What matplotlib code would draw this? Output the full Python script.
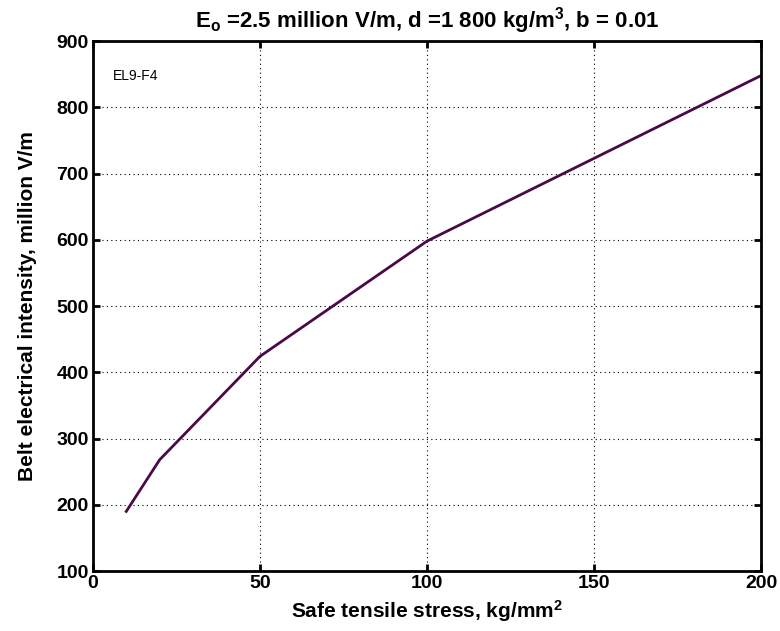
import matplotlib
matplotlib.use("Agg")
import matplotlib.pyplot as plt

stress = [10, 20, 50, 100, 200]
intensity = [190, 268, 424, 598, 848]
xticks = [0, 50, 100, 150, 200]
yticks = [100, 200, 300, 400, 500, 600, 700, 800, 900]

plt.rcParams['font.family'] = ['Liberation Sans', 'DejaVu Sans']
plt.rcParams['mathtext.fontset'] = 'custom'
plt.rcParams['mathtext.rm'] = 'Liberation Sans:bold'
plt.rcParams['mathtext.bf'] = 'Liberation Sans:bold'
plt.rcParams['mathtext.default'] = 'bf'

fig = plt.figure(figsize=(7.8, 6.31), dpi=100)
ax = fig.add_axes([0.119, 0.095, 0.857, 0.840])
ax.plot(stress, intensity, color='#4a0a48', lw=2)
ax.set_xlim(0, 200)
ax.set_ylim(100, 900)
ax.set_xticks(xticks)
ax.set_yticks(yticks)
ax.grid(True, linestyle=(0, (1, 3)), color='black', lw=0.8)
ax.tick_params(direction='in', length=5, width=2, labelsize=14, top=True, right=True, pad=3)
for lab in ax.get_xticklabels() + ax.get_yticklabels():
    lab.set_fontweight('bold')
for s in ax.spines.values():
    s.set_linewidth(2)
ax.set_xlabel(r'Safe tensile stress, kg/mm$^2$', fontsize=15, fontweight='bold', labelpad=4)
ax.set_ylabel('Belt electrical intensity, million V/m', fontsize=15, fontweight='bold', labelpad=14)
ax.set_title(r'E$_{o}$ =2.5 million V/m, d =1 800 kg/m$^{3}$, b = 0.01', fontsize=16, fontweight='bold', pad=10)
ax.text(6, 847, 'EL9-F4', fontsize=10, va='center')
fig.savefig('out.png', dpi=100)
